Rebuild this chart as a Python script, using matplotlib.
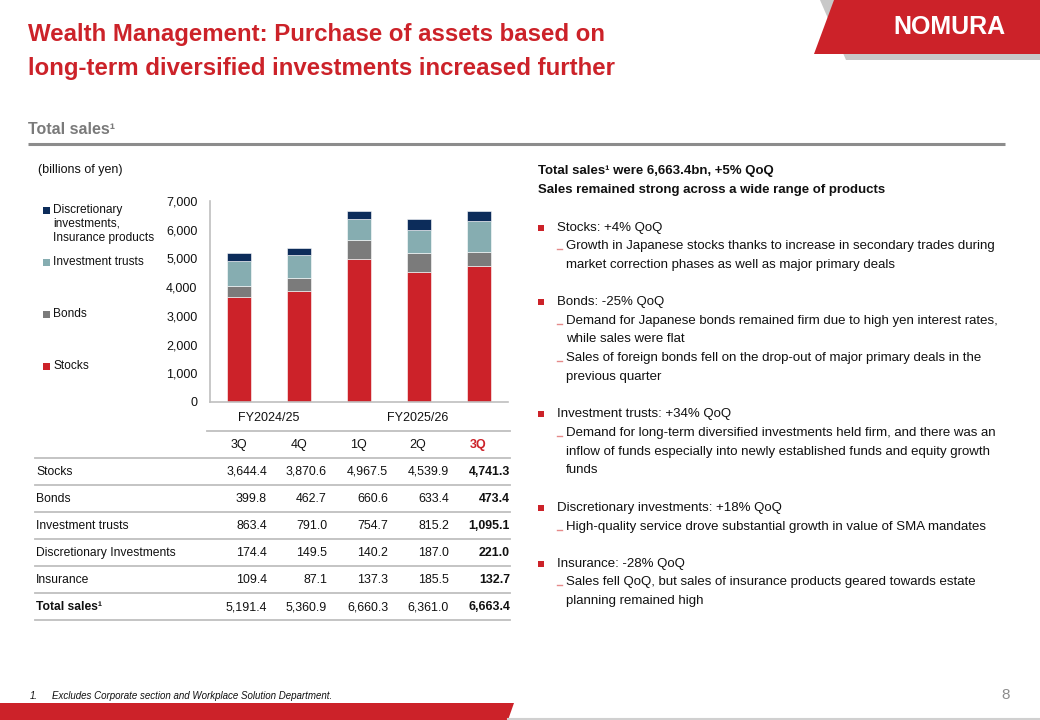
import matplotlib
matplotlib.use("Agg")
import matplotlib.pyplot as plt
from matplotlib.patches import Polygon, Rectangle
import numpy as np

plt.rcParams['font.family'] = ['Liberation Sans', 'DejaVu Sans']

# ---------------- data ----------------
quarters = ["3Q", "4Q", "1Q", "2Q", "3Q"]
fiscal_years = ["FY2024/25", "FY2025/26"]
stocks = [3644.4, 3870.6, 4967.5, 4539.9, 4741.3]
bonds = [399.8, 462.7, 660.6, 633.4, 473.4]
inv_trusts = [863.4, 791.0, 754.7, 815.2, 1095.1]
discretionary = [174.4, 149.5, 140.2, 187.0, 221.0]
insurance = [109.4, 87.1, 137.3, 185.5, 132.7]
totals = [5191.4, 5360.9, 6660.3, 6361.0, 6663.4]
row_labels = ["Stocks", "Bonds", "Investment trusts", "Discretionary Investments",
              "Insurance", "Total sales\u00b9"]
y_ticks = [0, 1000, 2000, 3000, 4000, 5000, 6000, 7000]

RED = "#CC2229"
GRAY = "#7B7B7B"
TEAL = "#86ADB1"
NAVY = "#0C2C5A"
LINE = "#BFBFBF"

fig = plt.figure(figsize=(10.4, 7.2), dpi=100)
bg = fig.add_axes([0, 0, 1, 1])
bg.set_xlim(0, 1040)
bg.set_ylim(720, 0)
bg.axis("off")

# ---------------- header ----------------
bg.add_patch(Polygon([(820, 0), (1040, 0), (1040, 60), (846, 60)], closed=True,
                     facecolor="#C8C8C8", edgecolor="none"))
bg.add_patch(Polygon([(834, 0), (1040, 0), (1040, 54), (814, 54)], closed=True,
                     facecolor=RED, edgecolor="none"))
bg.text(949, 27, "NOMURA", color="white", fontsize=18, fontweight="bold",
        ha="center", va="center")

bg.text(28, 34, "Wealth Management: Purchase of assets based on", color=RED,
        fontsize=17.3, fontweight="bold", ha="left", va="center")
bg.text(28, 68, "long-term diversified investments increased further", color=RED,
        fontsize=17.3, fontweight="bold", ha="left", va="center")

bg.text(28, 130, "Total sales\u00b9", color="#7A7A7A", fontsize=11.5,
        fontweight="bold", ha="left", va="center")
bg.plot([28, 1005], [144, 144], color="#8C8C8C", lw=2.2, solid_capstyle="butt")

bg.text(38, 170, "(billions of yen)", fontsize=9, ha="left", va="center", color="#111")

# ---------------- footer ----------------
bg.add_patch(Polygon([(0, 703), (514, 703), (508, 720), (0, 720)], closed=True,
                     facecolor=RED, edgecolor="none"))
bg.plot([508, 1040], [719, 719], color="#D0D0D0", lw=1.5)
bg.text(30, 696, "1.", fontsize=7, style="italic", ha="left", va="center", color="#111")
bg.text(52, 696, "Excludes Corporate section and Workplace Solution Department.",
        fontsize=7, style="italic", ha="left", va="center", color="#111")
bg.text(1006, 695, "8", fontsize=11, ha="center", va="center", color="#8C8C8C")

# ---------------- chart ----------------
ax = fig.add_axes([210 / 1040, 1 - 402 / 720, 298 / 1040, 201 / 720])
x = np.arange(len(quarters))
top = np.array(discretionary) + np.array(insurance)
w = 0.4
b1 = np.array(stocks)
b2 = b1 + np.array(bonds)
b3 = b2 + np.array(inv_trusts)
ax.bar(x, stocks, width=w, color=RED, edgecolor="white", linewidth=0.4)
ax.bar(x, bonds, width=w, bottom=b1, color=GRAY, edgecolor="white", linewidth=0.4)
ax.bar(x, inv_trusts, width=w, bottom=b2, color=TEAL, edgecolor="white", linewidth=0.4)
ax.bar(x, top, width=w, bottom=b3, color=NAVY, edgecolor="white", linewidth=0.4)
ax.set_xlim(-0.48, 4.48)
ax.set_ylim(0, 7000)
ax.set_yticks(y_ticks)
ax.set_yticklabels([f"{v:,}" for v in y_ticks], fontsize=9, color="#111")
ax.tick_params(axis="y", length=0, pad=9)
ax.set_xticks([])
for s in ["top", "right"]:
    ax.spines[s].set_visible(False)
for s in ["left", "bottom"]:
    ax.spines[s].set_color(LINE)
    ax.spines[s].set_linewidth(1.2)
ax.patch.set_alpha(0)

# legend (manual)
leg_items = [(NAVY, ["Discretionary", "investments,", "Insurance products"], 210),
             (TEAL, ["Investment trusts"], 262),
             (GRAY, ["Bonds"], 314),
             (RED, ["Stocks"], 366)]
for col, lines, y0 in leg_items:
    bg.add_patch(Rectangle((43, y0 - 3.5), 7, 7, facecolor=col, edgecolor="none"))
    for i, t in enumerate(lines):
        bg.text(53, y0 + 14 * i, t, fontsize=8.6, ha="left", va="center", color="#111")

# ---------------- table ----------------
col_px = [239, 299, 358, 418, 478]
right_px = [267, 327, 388, 449, 510]
bg.text((col_px[0] + col_px[1]) / 2, 418, fiscal_years[0], fontsize=9,
        ha="center", va="center", color="#111")
bg.text(np.mean(col_px[2:]), 418, fiscal_years[1], fontsize=9,
        ha="center", va="center", color="#111")
bg.plot([207, 510], [431, 431], color=LINE, lw=1.3)
for i, q in enumerate(quarters):
    last = i == len(quarters) - 1
    bg.text(col_px[i], 445, q, fontsize=9, ha="center", va="center",
            color=RED if last else "#111", fontweight="bold" if last else "normal")
series = [stocks, bonds, inv_trusts, discretionary, insurance, totals]
row_y = [472, 499, 526, 553, 580, 607]
for yl in [458, 485, 512, 539, 566, 593, 620]:
    bg.plot([35, 510], [yl, yl], color=LINE, lw=1.3)
for r, (lab, vals, yy) in enumerate(zip(row_labels, series, row_y)):
    is_tot = r == len(row_labels) - 1
    bg.text(36, yy, lab, fontsize=8.7, ha="left", va="center", color="#111",
            fontweight="bold" if is_tot else "normal")
    for i, v in enumerate(vals):
        last = i == len(vals) - 1
        bg.text(right_px[i], yy, f"{v:,.1f}", fontsize=8.9, ha="right", va="center",
                color="#111", fontweight="bold" if last else "normal")

# ---------------- commentary ----------------
bg.text(538, 171, "Total sales\u00b9 were 6,663.4bn, +5% QoQ", fontsize=9.5,
        fontweight="bold", ha="left", va="center", color="#111")
bg.text(538, 190, "Sales remained strong across a wide range of products", fontsize=9.5,
        fontweight="bold", ha="left", va="center", color="#111")

bullets = [
    (228, "Stocks: +4% QoQ"),
    (302, "Bonds: -25% QoQ"),
    (414, "Investment trusts: +34% QoQ"),
    (508, "Discretionary investments: +18% QoQ"),
    (564, "Insurance: -28% QoQ"),
]
subs = [
    (246, True, "Growth in Japanese stocks thanks to increase in secondary trades during"),
    (265, False, "market correction phases as well as major primary deals"),
    (321, True, "Demand for Japanese bonds remained firm due to high yen interest rates,"),
    (339, False, "while sales were flat"),
    (358, True, "Sales of foreign bonds fell on the drop-out of major primary deals in the"),
    (377, False, "previous quarter"),
    (433, True, "Demand for long-term diversified investments held firm, and there was an"),
    (452, False, "inflow of funds especially into newly established funds and equity growth"),
    (470, False, "funds"),
    (527, True, "High-quality service drove substantial growth in value of SMA mandates"),
    (582, True, "Sales fell QoQ, but sales of insurance products geared towards estate"),
    (601, False, "planning remained high"),
]
for yy, t in bullets:
    bg.add_patch(Rectangle((538, yy - 3), 6, 6, facecolor=RED, edgecolor="none"))
    bg.text(557, yy, t, fontsize=9.5, ha="left", va="center", color="#111")
for yy, dash, t in subs:
    if dash:
        bg.plot([557, 562], [yy + 3, yy + 3], color="#E58A8A", lw=1)
    bg.text(566, yy, t, fontsize=9.5, ha="left", va="center", color="#111")

fig.savefig("out.png", dpi=100)
